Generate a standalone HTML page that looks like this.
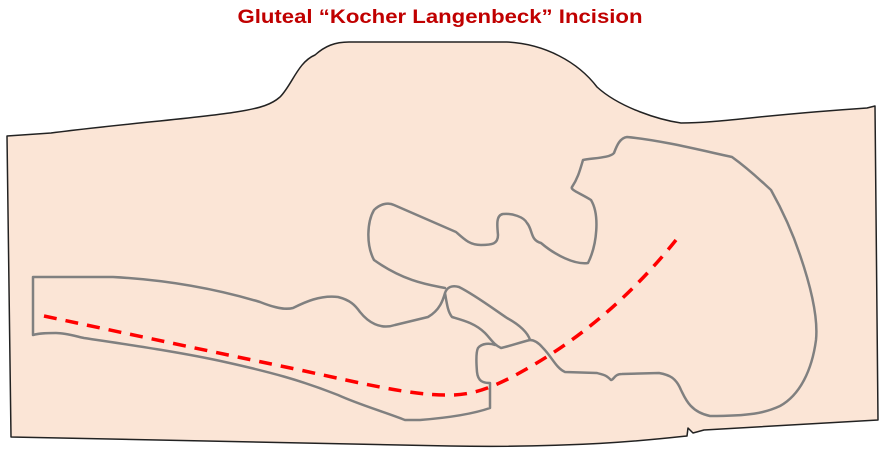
<!DOCTYPE html>
<html><head><meta charset="utf-8"><style>
html,body{margin:0;padding:0;background:#fff;}
svg{display:block}
</style></head><body>
<svg width="883" height="452" viewBox="0 0 883 452" xmlns="http://www.w3.org/2000/svg">
<text x="440" y="23" text-anchor="middle" font-family="'Liberation Sans',sans-serif" font-weight="bold" font-size="19" fill="#c00000" textLength="405" lengthAdjust="spacingAndGlyphs">Gluteal “Kocher Langenbeck” Incision</text>
<path d="M7,136 L51,133 C120,124 200,118 236,112 C262,108 272,104 280,97 C292,85 298,62 315,55 C325,46 335,42 349,42 L507,42 C545,44 578,62 597,87 C620,108 660,120 681,123 C720,123 760,115 867,108 L875,106 L878,420 L704,430 L693,433 L688,428 L687,436 C650,440 580,448 450,446 L11,437 Z" fill="#fbe5d6" stroke="#222" stroke-width="1.5" stroke-linejoin="round"/>
<g fill="none" stroke="#808080" stroke-width="2.5" stroke-linejoin="round" stroke-linecap="round">
<path d="M445,288 C430,285 405,282 374,260 C366,245 367,222 374,210 C380,204 388,202 394,205 L456,232 C465,240 470,245 481,245 C492,245 498,244 498,235 C497,225 496,215 503,214 C512,213 524,217 527,223 C533,230 530,240 541,243 C555,255 575,265 588,263 C597,245 600,215 591,200 C580,193 570,190 572,187 C578,178 580,170 583,160 C593,158 610,158 614,153 C617,145 620,138 627,137 C660,140 700,150 732,157 C750,170 760,180 771,190 C785,215 795,240 800,255 C812,290 818,320 816,340 C812,370 800,395 780,406 C765,413 750,416 710,416 C690,412 685,398 681,390 C676,378 670,375 659,373 L622,374 C614,374 614,380 611,380 C605,374 603,375 597,373 L565,372 C556,368 552,357 543,348 C538,342 534,340 530,340"/>
<path d="M33,277 L113,277 C170,280 220,290 260,302 C275,308 285,310 293,308 C305,302 320,295 338,297 C350,300 355,305 360,312 C368,322 380,330 395,325 L428,317 C440,310 443,300 445,293 C447,287 452,285 459,287 C475,295 495,310 507,318 C520,325 528,333 530,340 M445,293 C447,305 448,312 452,317 C462,320 475,323 485,333 C490,338 494,345 501,348 C510,346 518,343 530,340 M33,277 L33,335 C40,333 48,333 56,333 C65,333 75,336 84,338 C130,345 180,352 225,362 C270,372 300,380 338,395 C360,405 385,412 405,420 L420,420 C445,418 470,415 490,408 L490,383 C484,383 478,382 477,372 C476,360 476,352 478,348 C482,343 490,343 495,345"/>
</g>
<path d="M44,316 C110,330 180,345 300,370 C360,383 410,395 445,395 C470,396 490,388 510,378 C560,352 620,310 676,240" fill="none" stroke="#ff0000" stroke-width="3.5" stroke-dasharray="13,9"/>
</svg>
</body></html>
